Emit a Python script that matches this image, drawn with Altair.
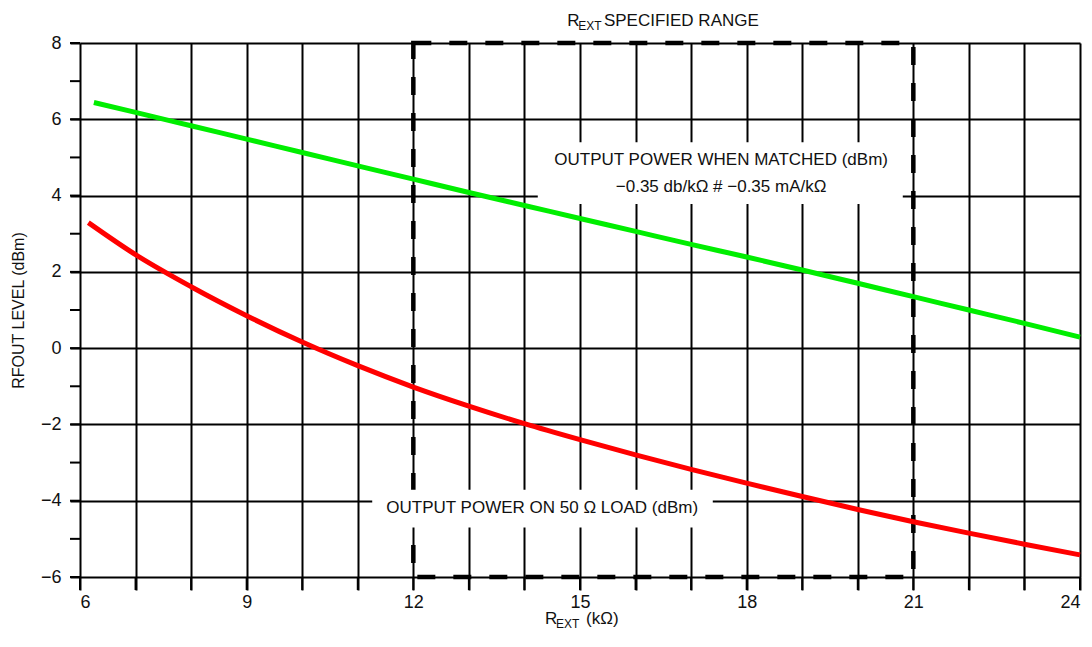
import altair as alt
import pandas as pd

# ---- data ----
green_x = [6.25, 7, 8, 9, 10, 11, 12, 13, 14, 15, 16, 17, 18, 19, 20, 21, 22, 23, 24]
green_y = [6.44, 6.18, 5.83, 5.48, 5.13, 4.78, 4.43, 4.08, 3.74, 3.4, 3.06, 2.72, 2.39, 2.05, 1.7, 1.35, 1.0, 0.65, 0.29]

red_x = [6.15, 7, 8, 9, 10, 11, 12, 13, 14, 15, 16, 17, 18, 19, 20, 21, 22, 23, 24]
red_y = [3.29, 2.45, 1.61, 0.85, 0.16, -0.46, -1.02, -1.52, -1.98, -2.4, -2.8, -3.18, -3.54, -3.89, -4.23, -4.55, -4.85, -5.14, -5.42]

x_ticks = list(range(6, 25))
y_ticks = list(range(-6, 9))

range_lo, range_hi = 12, 21
y_lo, y_hi = -6, 8

matched_lines = ["OUTPUT POWER WHEN MATCHED (dBm)", "\u22120.35 db/k\u03a9 # \u22120.35 mA/k\u03a9"]
load_label = "OUTPUT POWER ON 50 \u03a9 LOAD (dBm)"

FONT = "Liberation Sans"
W, H = 1000, 534

green = pd.DataFrame({"x": green_x, "y": green_y})
red = pd.DataFrame({"x": red_x, "y": red_y})

xs = alt.Scale(domain=[6, 24], nice=False, zero=False)
ys = alt.Scale(domain=[y_lo, y_hi], nice=False, zero=False)

xaxis = alt.Axis(values=x_ticks, labelExpr="datum.value % 3 == 0 ? datum.label : ''",
                 grid=True, gridColor="black", gridWidth=2, gridOpacity=1,
                 ticks=True, tickSize=13, tickWidth=2, tickColor="black", tickOpacity=1,
                 domain=False,
                 labelFont=FONT, labelFontSize=18, labelColor="#111", labelPadding=3,
                 title=None)
yaxis = alt.Axis(values=y_ticks, labelExpr="datum.value % 2 == 0 ? datum.label : ''",
                 grid=True, gridColor="black", gridWidth=2, gridOpacity=1,
                 ticks=True, tickSize=10, tickWidth=2, tickColor="black", tickOpacity=1,
                 domain=False,
                 labelFont=FONT, labelFontSize=18, labelColor="#111", labelPadding=9,
                 title="RFOUT LEVEL (dBm)", titleFont=FONT, titleFontSize=16,
                 titleFontWeight="normal", titleColor="#111",
                 titleX=-62, titleY=H / 2, titleAngle=-90, titleAlign="center",
                 titleBaseline="middle")

base_axes = alt.Chart(pd.DataFrame({"x": [6], "y": [0]})).mark_point(opacity=0).encode(
    x=alt.X("x:Q", scale=xs, axis=xaxis),
    y=alt.Y("y:Q", scale=ys, axis=yaxis),
)

# outside tick extensions (every unit), drawn from the tick arrays
xt = alt.Chart(pd.DataFrame({"x": x_ticks})).mark_rule(color="black", strokeWidth=2).encode(
    x=alt.X("x:Q", scale=xs), y=alt.value(H), y2=alt.value(H + 13))
yt = alt.Chart(pd.DataFrame({"y": y_ticks})).mark_rule(color="black", strokeWidth=2).encode(
    y=alt.Y("y:Q", scale=ys), x=alt.value(-10), x2=alt.value(0))

rng = alt.Chart(pd.DataFrame({"x": [range_lo], "x2": [range_hi], "y": [y_lo], "y2": [y_hi]})).mark_rect(
    fillOpacity=0, stroke="black", strokeWidth=4.5, strokeDash=[18, 18]
).encode(x=alt.X("x:Q", scale=xs), x2="x2:Q", y=alt.Y("y:Q", scale=ys), y2="y2:Q")

line_g = alt.Chart(green).mark_line(color="#00ee00", strokeWidth=5, interpolate="monotone").encode(
    x=alt.X("x:Q", scale=xs), y=alt.Y("y:Q", scale=ys))
line_r = alt.Chart(red).mark_line(color="#ff0000", strokeWidth=5, interpolate="monotone").encode(
    x=alt.X("x:Q", scale=xs), y=alt.Y("y:Q", scale=ys))

boxes = alt.Chart(pd.DataFrame({"x": [14.24, 11.26], "x2": [20.81, 17.39],
                                "y": [3.78, -4.70], "y2": [5.40, -3.71]})).mark_rect(
    fill="white", stroke=None).encode(
    x=alt.X("x:Q", scale=xs), x2="x2:Q", y=alt.Y("y:Q", scale=ys), y2="y2:Q")

ann = alt.Chart(pd.DataFrame({"x": [17.54, 17.54, 14.32], "y": [4.93, 4.23, -4.18],
                              "t": matched_lines + [load_label]})).mark_text(
    font=FONT, fontSize=17, color="#111", align="center", baseline="middle").encode(
    x=alt.X("x:Q", scale=xs), y=alt.Y("y:Q", scale=ys), text="t:N")

def piece(xv, txt, ypix, size, align="left"):
    return alt.Chart(pd.DataFrame({"x": [xv], "t": [txt]})).mark_text(
        font=FONT, fontSize=size, color="#111", align=align, baseline="middle").encode(
        x=alt.X("x:Q", scale=xs), y=alt.value(ypix), text="t:N")

top_title = piece(14.77, "R", -22, 17) + piece(14.97, "EXT", -17, 12) + piece(15.43, "SPECIFIED RANGE", -22, 17)
x_title = piece(14.37, "R", H + 42, 17) + piece(14.57, "EXT", H + 47, 12) + piece(15.11, "(k\u03a9)", H + 42, 17)

chart = alt.layer(base_axes, xt, yt, rng, line_g, line_r, boxes, ann, top_title, x_title).properties(
    width=W, height=H,
    autosize=alt.AutoSizeParams(type="none"),
    padding={"left": 72, "top": 35, "right": 2, "bottom": 54},
).configure_view(stroke="black", strokeWidth=3.5).configure(background="white")

chart.save("out.html", embed_options={"renderer": "svg", "actions": False})
